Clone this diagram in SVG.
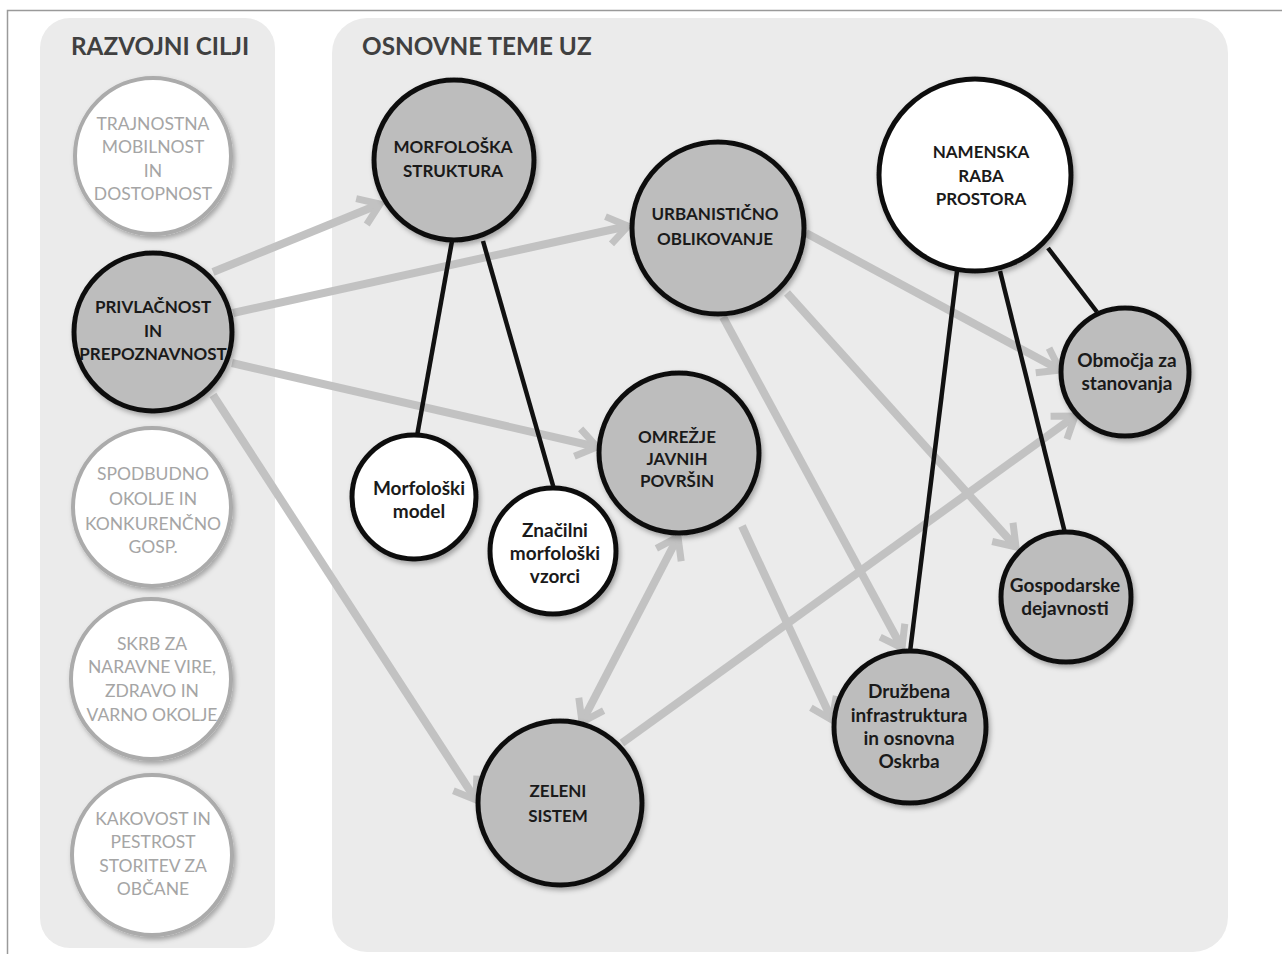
<svg xmlns="http://www.w3.org/2000/svg" width="1282" height="954" viewBox="0 0 1282 954">
<defs>
<style>
.panel{fill:#ebebeb;}
.hdr{font-family:Lato,"Open Sans",sans-serif;font-weight:bold;font-size:24.3px;fill:#404040;}
.goal circle{fill:#ffffff;stroke:#ababab;stroke-width:4;filter:url(#sh);}
.goal text{font-family:Lato,"Open Sans",sans-serif;font-size:17.5px;fill:#a5a5a5;text-anchor:middle;}
.gnode circle{fill:#bdbdbd;stroke:#111;stroke-width:5;filter:url(#sh);}
.wnode circle{fill:#ffffff;stroke:#111;stroke-width:5;filter:url(#sh);}
.lbl{font-family:Lato,"Open Sans",sans-serif;font-weight:bold;fill:#1a1a1a;text-anchor:middle;}
.cap{font-size:17px;}
.low{font-size:19px;}
.arr{stroke:#c2c2c2;stroke-width:8;fill:none;marker-end:url(#ah);}
.blk{stroke:#111;stroke-width:4.5;fill:none;}
</style>
<filter id="sh" x="-20%" y="-20%" width="150%" height="150%">
<feDropShadow dx="2" dy="3" stdDeviation="2.5" flood-color="#000" flood-opacity="0.3"/>
</filter>
<marker id="ah" markerUnits="userSpaceOnUse" markerWidth="40" markerHeight="40" viewBox="0 0 40 40" refX="30" refY="20" orient="auto-start-reverse">
<path d="M10,6 L30,20 L10,34" fill="none" stroke="#c2c2c2" stroke-width="7"/>
</marker>
</defs>
<rect x="0" y="0" width="1282" height="954" fill="#ffffff"/>
<path d="M7.5,954 V10.5 H1282" fill="none" stroke="#9a9a9a" stroke-width="1.5"/>
<rect class="panel" x="40" y="18" width="235" height="930" rx="30"/>
<rect class="panel" x="332" y="18" width="896" height="934" rx="35"/>
<text class="hdr" x="71" y="55">RAZVOJNI CILJI</text>
<text class="hdr" x="362" y="55">OSNOVNE TEME UZ</text>

<g id="connectors">
<line class="arr" x1="213" y1="272" x2="380" y2="204"/>
<line class="arr" x1="233" y1="313" x2="628" y2="226"/>
<line class="arr" x1="232" y1="363" x2="597" y2="447"/>
<line class="arr" x1="213" y1="395" x2="476" y2="800"/>
<line class="arr" x1="806" y1="233" x2="1060" y2="370"/>
<line class="arr" x1="787" y1="293" x2="1016" y2="547"/>
<line class="arr" x1="723" y1="317" x2="902" y2="648"/>
<line class="arr" x1="742" y1="526" x2="832" y2="720"/>
<line class="arr" x1="582" y1="722" x2="678" y2="537" marker-start="url(#ah)"/>
<line class="arr" x1="622" y1="743" x2="1075" y2="416"/>
<line class="blk" x1="452" y1="241" x2="417" y2="436"/>
<line class="blk" x1="483" y1="241" x2="554" y2="489"/>
<line class="blk" x1="957" y1="271" x2="910" y2="652"/>
<line class="blk" x1="1000" y1="271" x2="1065" y2="533"/>
<line class="blk" x1="1048" y1="248" x2="1097" y2="312"/>
</g>

<g id="goal1" class="goal"><circle cx="153" cy="156" r="78"/>
<text x="153" y="130">TRAJNOSTNA</text><text x="153" y="153">MOBILNOST</text><text x="153" y="177">IN</text><text x="153" y="200">DOSTOPNOST</text></g>
<g id="goal3" class="goal"><circle cx="152" cy="507" r="79"/>
<text x="153" y="480">SPODBUDNO</text><text x="153" y="505">OKOLJE IN</text><text x="153" y="530">KONKURENČNO</text><text x="153" y="553">GOSP.</text></g>
<g id="goal4" class="goal"><circle cx="151" cy="679" r="80"/>
<text x="152" y="650">SKRB ZA</text><text x="152" y="673">NARAVNE VIRE,</text><text x="152" y="697">ZDRAVO IN</text><text x="152" y="721">VARNO OKOLJE</text></g>
<g id="goal5" class="goal"><circle cx="152" cy="855" r="80"/>
<text x="153" y="825">KAKOVOST IN</text><text x="153" y="848">PESTROST</text><text x="153" y="872">STORITEV ZA</text><text x="153" y="895">OBČANE</text></g>

<g id="privlacnost" class="gnode"><circle cx="153" cy="332" r="79"/>
<text class="lbl cap" x="153" y="313">PRIVLAČNOST</text><text class="lbl cap" x="153" y="337">IN</text><text class="lbl cap" x="153" y="360">PREPOZNAVNOST</text></g>

<g id="morfoloska" class="gnode"><circle cx="454" cy="160" r="80"/>
<text class="lbl cap" x="453" y="153">MORFOLOŠKA</text><text class="lbl cap" x="453" y="177">STRUKTURA</text></g>
<g id="urbanisticno" class="gnode"><circle cx="718" cy="228" r="86"/>
<text class="lbl cap" x="715" y="220">URBANISTIČNO</text><text class="lbl cap" x="715" y="245">OBLIKOVANJE</text></g>
<g id="namenska" class="wnode"><circle cx="975" cy="175" r="96"/>
<text class="lbl cap" x="981" y="158">NAMENSKA</text><text class="lbl cap" x="981" y="182">RABA</text><text class="lbl cap" x="981" y="205">PROSTORA</text></g>
<g id="obmocja" class="gnode"><circle cx="1125" cy="372" r="64"/>
<text class="lbl low" x="1127" y="367">Območja za</text><text class="lbl low" x="1127" y="390">stanovanja</text></g>
<g id="omrezje" class="gnode"><circle cx="679" cy="453" r="80"/>
<text class="lbl cap" x="677" y="443">OMREŽJE</text><text class="lbl cap" x="677" y="465">JAVNIH</text><text class="lbl cap" x="677" y="487">POVRŠIN</text></g>
<g id="morfmodel" class="wnode"><circle cx="414" cy="497" r="62"/>
<text class="lbl low" x="419" y="495">Morfološki</text><text class="lbl low" x="419" y="518">model</text></g>
<g id="znacilni" class="wnode"><circle cx="553" cy="551" r="63"/>
<text class="lbl low" x="555" y="537">Značilni</text><text class="lbl low" x="555" y="560">morfološki</text><text class="lbl low" x="555" y="583">vzorci</text></g>
<g id="gospodarske" class="gnode"><circle cx="1066" cy="597" r="65"/>
<text class="lbl low" x="1065" y="592">Gospodarske</text><text class="lbl low" x="1065" y="615">dejavnosti</text></g>
<g id="druzbena" class="gnode"><circle cx="910" cy="727" r="76"/>
<text class="lbl low" x="909" y="698">Družbena</text><text class="lbl low" x="909" y="722">infrastruktura</text><text class="lbl low" x="909" y="745">in osnovna</text><text class="lbl low" x="909" y="768">Oskrba</text></g>
<g id="zeleni" class="gnode"><circle cx="560" cy="803" r="82"/>
<text class="lbl cap" x="558" y="797">ZELENI</text><text class="lbl cap" x="558" y="822">SISTEM</text></g>
</svg>
